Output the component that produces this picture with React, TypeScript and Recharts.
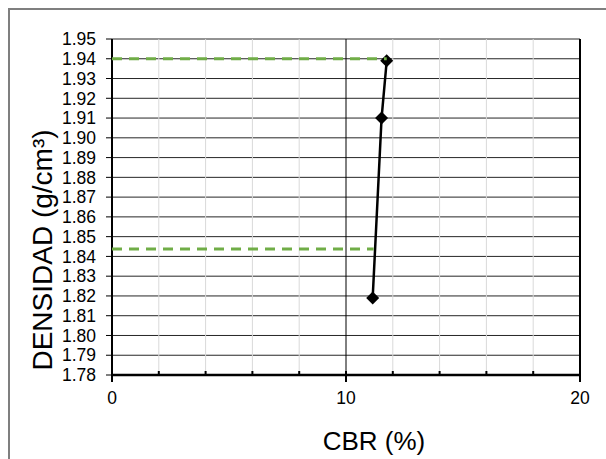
import { ScatterChart, Scatter, XAxis, YAxis, CartesianGrid, ReferenceLine, Label } from "recharts"

const CBR = [11.14, 11.52, 11.74]
const DENSIDAD = [1.819, 1.91, 1.939]

const GUIDE_TOP_X = [0, 11.74]
const GUIDE_TOP_Y = [1.94, 1.94]
const GUIDE_LOW_X = [0, 11.18]
const GUIDE_LOW_Y = [1.8437, 1.8437]

const X_TICKS = [0, 2, 4, 6, 8, 10, 12, 14, 16, 18, 20]
const X_MAJOR = [0, 10, 20]
const X_GRID_LIGHT = [2, 4, 6, 8, 12, 14, 16, 18]
const Y_TICKS = [1.78, 1.79, 1.8, 1.81, 1.82, 1.83, 1.84, 1.85, 1.86, 1.87, 1.88, 1.89, 1.9, 1.91, 1.92, 1.93, 1.94, 1.95]

const FONT = "Arial, 'Liberation Sans', sans-serif"

const zip = (xs: number[], ys: number[]) => xs.map((x, i) => ({ x, y: ys[i] }))
const points = zip(CBR, DENSIDAD)
const guideTop = zip(GUIDE_TOP_X, GUIDE_TOP_Y)
const guideLow = zip(GUIDE_LOW_X, GUIDE_LOW_Y)

const Diamond = ({ cx, cy }: any) => {
  const r = 6.5
  return <polygon points={`${cx},${cy - r} ${cx + r},${cy} ${cx},${cy + r} ${cx - r},${cy}`} fill="#000" />
}

const XTick = ({ x, y, payload }: any) => {
  const major = X_MAJOR.includes(payload.value)
  return (
    <g>
      {major
        ? <line x1={x} x2={x} y1={y - 4} y2={y + 7} stroke="#000" strokeWidth={2} />
        : <line x1={x} x2={x} y1={y - 4} y2={y} stroke="#000" strokeWidth={2} />}
      {major && (
        <text x={x} y={y + 29} textAnchor="middle" fontSize={17.5} fontFamily={FONT} fill="#000">
          {payload.value}
        </text>
      )}
    </g>
  )
}

export default function App() {
  return (
    <div style={{ position: "fixed", left: 0, top: 0, width: 606, height: 459, overflow: "hidden", background: "#fff" }}>
      <div style={{
        position: "absolute", left: 8, top: 8, width: 700, height: 600,
        border: "2px solid #7f7f7f", boxSizing: "border-box",
      }} />
      <div style={{ position: "absolute", left: 0, top: 0 }}>
        <ScatterChart width={606} height={459} margin={{ top: 39, right: 26, bottom: 0, left: 0 }}>
          <CartesianGrid vertical={false} stroke="#262626" strokeWidth={1} />
          {X_GRID_LIGHT.map(v => (
            <ReferenceLine key={v} x={v} stroke="#d9d9d9" strokeWidth={1} />
          ))}
          <ReferenceLine x={10} stroke="#000" strokeWidth={1} />
          <ReferenceLine x={20} stroke="#000" strokeWidth={2} />
          <XAxis
            type="number"
            dataKey="x"
            domain={[0, 20]}
            ticks={X_TICKS}
            interval={0}
            height={84}
            tickSize={0}
            tickMargin={0}
            tickLine={false}
            axisLine={{ stroke: "#000", strokeWidth: 2.5 }}
            tick={<XTick />}
          >
            <Label
              content={() => (
                <text x={374} y={450} textAnchor="middle" fontSize={26} fontFamily={FONT} fill="#000">
                  CBR (%)
                </text>
              )}
            />
          </XAxis>
          <YAxis
            type="number"
            dataKey="y"
            domain={[1.78, 1.95]}
            ticks={Y_TICKS}
            interval={0}
            width={112}
            tickSize={6}
            tickMargin={10}
            tickLine={{ stroke: "#000" }}
            axisLine={{ stroke: "#000", strokeWidth: 2 }}
            tick={{ fontSize: 17.5, fill: "#000", fontFamily: FONT }}
            tickFormatter={(v: number) => v.toFixed(2)}
          >
            <Label
              content={() => (
                <text
                  x={52} y={250} textAnchor="middle" fontSize={28} fontFamily={FONT} fill="#000"
                  transform="rotate(-90 52 250)"
                >
                  DENSIDAD (g/cm³)
                </text>
              )}
            />
          </YAxis>
          <Scatter
            data={points}
            line={{ stroke: "#000", strokeWidth: 2.5 }}
            shape={<Diamond />}
            isAnimationActive={false}
          />
          <Scatter
            data={guideTop}
            line={{ stroke: "#70ad47", strokeWidth: 3, strokeDasharray: "10 7" }}
            shape={() => <g />}
            isAnimationActive={false}
          />
          <Scatter
            data={guideLow}
            line={{ stroke: "#70ad47", strokeWidth: 3, strokeDasharray: "10 7" }}
            shape={() => <g />}
            isAnimationActive={false}
          />
        </ScatterChart>
      </div>
    </div>
  )
}
